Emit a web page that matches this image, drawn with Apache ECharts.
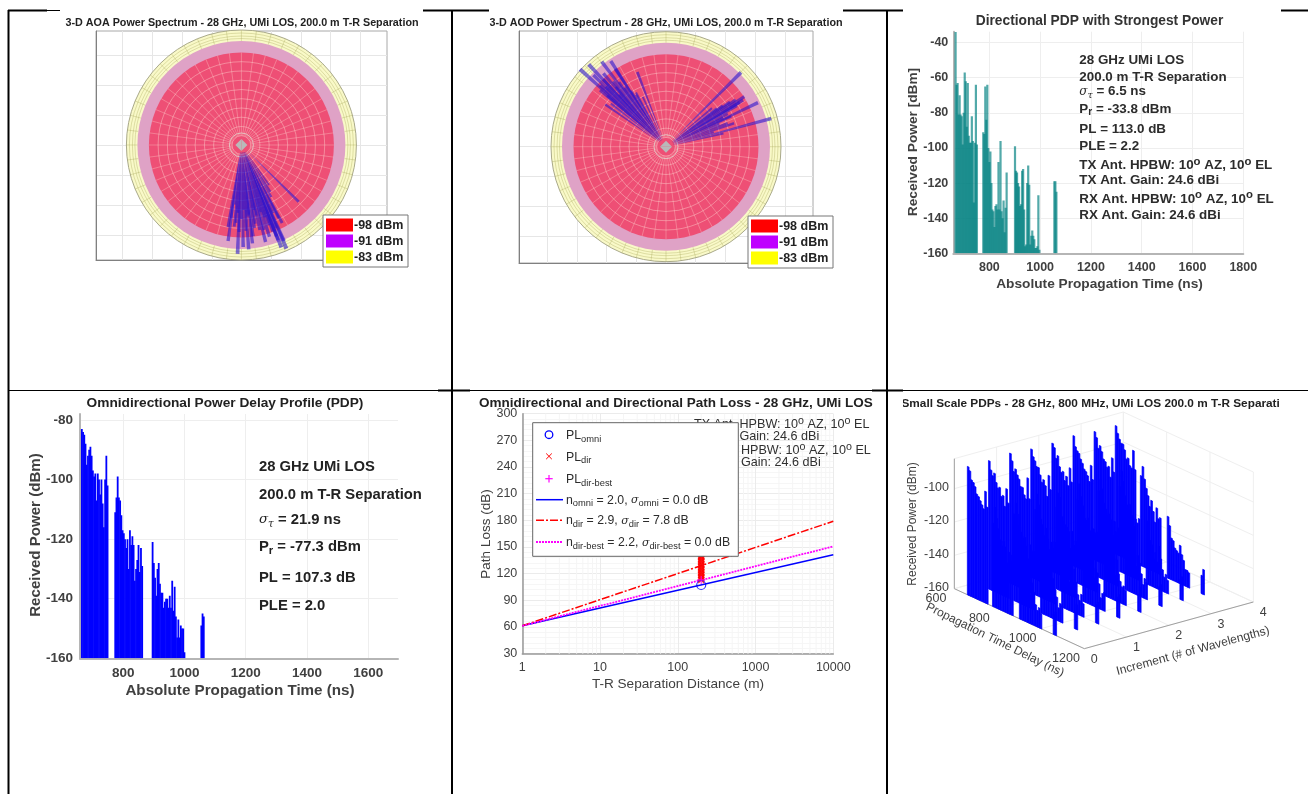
<!DOCTYPE html>
<html><head><meta charset="utf-8">
<style>html,body{margin:0;padding:0;background:#fff}#c{width:1308px;height:794px}</style>
<script src="https://cdn.jsdelivr.net/npm/echarts@6/dist/echarts.min.js"></script>
</head><body><div id="c"></div>
<script>
// ---------- data ----------
const bandRadii = [115, 104, 92.5];
const bandColors = ['#f9f9c8', '#dfa2c6', '#ee4f75'];
const redRings = [9.3, 18.5, 27.8, 37, 46.3, 55.5, 64.8, 74, 83.3];
const yellowRings = [106.5, 109, 112];
const spokeAngles = [0,7.5,15,22.5,30,37.5,45,52.5,60,67.5,75,82.5,90,97.5,105,112.5,120,127.5,135,142.5,150,157.5,165,172.5,180,187.5,195,202.5,210,217.5,225,232.5,240,247.5,255,262.5,270,277.5,285,292.5,300,307.5,315,322.5,330,337.5,345,352.5];
const aoaAngles = [134.7,145.3,152.4,156.5,158.7,158.9,166,167.8,172.7,173.6,176,179,182,181.5,187.9,189.3,150,155,161,164,170,175,178,184,186,160,168,163,148,153,157,162,165,169,171,174,177,180,183,185,188,159,156];
const aoaRadii  = [80.6,48.6,88,113,110,102,100,87,92,99,104.6,102,109,87,97,83,60,75,85,70,80,72,65,78,60,92,72,96,55,82,90,76,88,66,84,70,86,74,68,82,74,98,105];
const aodAngles = [312,316.8,322.9,327.2,314.6,339,319.5,310.6,304.8,326.9,45.3,57.4,58.9,64.4,75,71,77,52.9,308,315,320,325,330,335,50,55,62,67,73,60,311,313,317,318,321,324,328,331,54,56,59,63,65,69];
const aodRadii  = [115.7,113,106.6,102,102,80,96.5,87,74,93,105.6,93,90,102,109,72,59,63.5,70,85,78,72,60,55,60,78,70,58,50,82,78,90,92,70,84,80,66,62,70,84,86,64,72,66];
const bgTicksX = [-4,-3,-2,-1,0,1,2,3,4];
const bgTicksY = [-3,-2,-1,0,1,2,3];

const dirStarts = [667, 776, 901, 1056];
const dirPower = [
 [-34,-64,-63,-81,-70,-81,-82,-98,-80,-57,-62,-88,-63,-93,-97,-97,-82,-96,-131,-97,-64,-98],
 [-91,-92,-65,-84,-64,-100,-108,-102,-120,-135,-136,-145,-133,-132,-135,-108,-135,-96,-136,-140,-130,-148,-134,-114],
 [-99,-113,-114,-120,-122,-133,-132,-113,-112,-135,-156,-155,-120,-110,-121,-155,-150,-147,-150,-152,-157,-157,-156,-127,-158],
 [-119,-119,-125]
];
const omniStarts = [665, 774, 896, 1055];
const omniPower = [
 [-83,-84,-85,-88,-95,-92,-90,-89,-92,-97,-99,-98,-107,-98,-100,-105,-100,-108,-116,-100,-92,-102],
 [-111,-106,-99,-106,-107,-112,-117,-118,-120,-123,-120,-130,-117,-122,-119,-122,-134,-130,-127,-122,-131,-123,-129],
 [-121,-128,-133,-139,-130,-128,-135,-138,-138,-143,-141,-140,-140,-143,-139,-143,-134,-144,-136,-146,-153,-147,-153,-149,-150,-150,-158],
 [-149,-145,-146]
];
const plDistance = [1, 10000];
const plOmniFit = [61.4, 141.4];
const plDirFit = [61.4, 179];
const plBestFit = [61.4, 150.8];
const plPointDistance = 200;
const plOmniPoint = 107.3;
const plBestPoint = 113;
const plDirPoints = [113,115,116,118,119,121,122,124,125,127,128,130,131,133,134,136,137,139,140,142,144,146];

const incTicks = [0,1,2,3,4];
const delayTicks = [600,800,1000,1200];
const powerTicks = [-160,-140,-120,-100];
const ssIncrements = [0,0.5,1,1.5,2,2.5,3,3.5];
const ssStarts = [660, 776, 900, 1056];
const ssSegLens = [12, 12, 13, 2];
const ssRow0 = [-83,-85,-90,-91,-93,-97,-98,-100,-102,-104,-93,-102,-110,-100,-106,-112,-118,-121,-118,-121,-130,-123,-128,-124,-122,-132,-129,-137,-142,-141,-143,-135,-140,-147,-150,-148,-151,-148,-146];
const ssRow1 = [-83,-88,-91,-89,-94,-97,-96,-101,-100,-106,-95,-103,-108,-101,-107,-114,-117,-120,-119,-124,-131,-122,-126,-125,-123,-129,-134,-136,-141,-139,-144,-136,-142,-146,-152,-149,-150,-150,-145];
const ssRow2 = [-82,-86,-92,-90,-93,-95,-99,-99,-103,-105,-92,-104,-109,-99,-105,-113,-116,-122,-117,-123,-129,-124,-127,-123,-121,-131,-133,-135,-143,-140,-142,-134,-141,-148,-151,-147,-152,-149,-147];
const ssRow3 = [-83,-87,-89,-92,-92,-96,-100,-98,-101,-107,-94,-102,-111,-102,-104,-115,-118,-119,-120,-122,-132,-121,-129,-126,-122,-128,-135,-138,-140,-142,-143,-137,-139,-145,-153,-150,-149,-148,-146];
const ssRow4 = [-83,-85,-91,-89,-95,-98,-97,-102,-99,-104,-93,-101,-110,-100,-107,-112,-119,-120,-118,-125,-130,-123,-125,-124,-123,-130,-132,-136,-141,-138,-145,-135,-143,-147,-150,-149,-151,-150,-145];
const ssRow5 = [-82,-88,-90,-91,-94,-96,-99,-100,-102,-105,-95,-103,-108,-101,-106,-114,-117,-121,-119,-122,-131,-122,-128,-125,-121,-129,-134,-137,-142,-140,-143,-136,-140,-146,-152,-148,-150,-149,-147];
const ssRow6 = [-83,-86,-92,-90,-93,-97,-98,-101,-100,-106,-94,-102,-109,-99,-105,-113,-118,-120,-117,-123,-129,-124,-126,-123,-122,-131,-133,-135,-143,-139,-144,-134,-141,-147,-151,-149,-152,-148,-146];
const ssRow7 = [-83,-87,-90,-92,-92,-95,-100,-99,-103,-104,-93,-104,-106,-100,-107,-112,-116,-122,-118,-124,-130,-121,-127,-126,-123,-128,-135,-136,-140,-141,-142,-137,-142,-145,-150,-150,-151,-149,-145];
const ssRows = [ssRow0,ssRow1,ssRow2,ssRow3,ssRow4,ssRow5,ssRow6,ssRow7];

// ---------- helpers ----------
const FF = '"Liberation Sans", Arial, sans-serif';
const graphics = [];
function richFor(size, weight){
  const base = {fontFamily:FF, fontWeight:weight};
  return {
    s:{...base, fontSize:size*0.76, padding:[size*0.55,0,0,0]},
    u:{...base, fontSize:size*0.85, padding:[0,0,size*0.6,0]},
    g:{fontFamily:'"DejaVu Serif", serif', fontStyle:'italic', fontWeight:'normal', fontSize:size*0.9},
    gs:{fontFamily:'"DejaVu Serif", serif', fontStyle:'italic', fontWeight:'normal', fontSize:size*0.7, padding:[size*0.55,0,0,0]},
    n:{...base, fontSize:size}
  };
}
function T(x,y,text,o={}){
  const size=o.size||12, weight=o.bold?'bold':'normal';
  graphics.push({type:'text',x,y,rotation:o.rot||0,z:o.z||50,silent:true,style:{
    text, fill:o.color||'#404040', fontFamily:FF, fontSize:size, fontWeight:weight,
    align:o.align||'left', verticalAlign:'middle', rich:o.rich?richFor(size,weight):undefined}});
}
function rect(x,y,w,h,fill,z,stroke){
  graphics.push({type:'rect',z:z||1,silent:true,shape:{x,y,width:w,height:h},style:{fill,stroke:stroke||null,lineWidth:stroke?1:0}});
}
function seg(x1,y1,x2,y2,color,w,z,dash){
  graphics.push({type:'line',z:z||1,silent:true,shape:{x1,y1,x2,y2},style:{stroke:color,lineWidth:w,lineDash:dash||null}});
}
function flat(starts,rows,step){
  const out=[];
  rows.forEach((r,i)=>r.forEach((p,j)=>out.push([starts[i]+j*step,p])));
  return out;
}
function stems(gridIndex,data,floor,color,w,opacity){
  return {type:'custom',coordinateSystem:'cartesian2d',xAxisIndex:gridIndex,yAxisIndex:gridIndex,z:3,
    clip:true,silent:true,data,encode:{x:0,y:1},
    renderItem(p,api){
      const a=api.coord([api.value(0),api.value(1)]), b=api.coord([api.value(0),floor]);
      return {type:'rect',shape:{x:a[0]-w/2,y:a[1],width:w,height:b[1]-a[1]},style:{fill:color,opacity}};
    }};
}
const plain=v=>String(v);

const grids=[], xAxes=[], yAxes=[], series=[], polars=[], radiusAxes=[], angleAxes=[];

// ---------- panels 1, 2: spectra ----------
function spectrum(box,center,angles,radii){
  const g=grids.length, pi=polars.length;
  grids.push({left:box[0],top:box[1],width:box[2]-box[0],height:box[3]-box[1],show:true,borderColor:'#a8a8a8',borderWidth:1,backgroundColor:'transparent'});
  const ux=(box[2]-box[0])/2/29.7, uy=(center[1]-box[1])/30, ly=(box[3]-center[1])/30;
  xAxes.push({gridIndex:g,type:'value',min:-ux,max:ux,
    axisLine:{show:true,onZero:false,lineStyle:{color:'#808080',width:1}},axisLabel:{show:false},
    axisTick:{show:false,customValues:bgTicksX},splitLine:{show:true,lineStyle:{color:'#e6e6e6'}}});
  yAxes.push({gridIndex:g,type:'value',min:-ly,max:uy,
    axisLine:{show:true,onZero:false,lineStyle:{color:'#808080',width:1}},axisLabel:{show:false},
    axisTick:{show:false,customValues:bgTicksY},splitLine:{show:true,lineStyle:{color:'#e6e6e6'}}});
  polars.push({center,radius:115});
  radiusAxes.push({polarIndex:pi,type:'value',min:0,max:115,axisLine:{show:false},axisTick:{show:false},axisLabel:{show:false},splitLine:{show:false}});
  angleAxes.push({polarIndex:pi,type:'value',min:0,max:360,startAngle:90,axisLine:{show:false},axisTick:{show:false},axisLabel:{show:false},splitLine:{show:false}});
  const polarCustom=(z,data,renderItem)=>({type:'custom',coordinateSystem:'polar',polarIndex:pi,z,silent:true,clip:false,data,encode:{radius:0,angle:1},renderItem});
  const dist=(a,b)=>Math.hypot(a[0]-b[0],a[1]-b[1]);
  const circle=(api,r)=>{const c=api.coord([0,0]);return {cx:c[0],cy:c[1],r:dist(c,api.coord([r,0]))};};
  series.push(polarCustom(2,[[bandRadii[0],0]],(p,api)=>({type:'circle',shape:circle(api,api.value(0)),style:{fill:bandColors[0],stroke:'#a9a98a',lineWidth:1}})));
  series.push(polarCustom(3,yellowRings.map(r=>[r,0]),(p,api)=>({type:'circle',shape:circle(api,api.value(0)),style:{fill:null,stroke:'rgba(165,165,90,0.5)',lineWidth:0.7}})));
  series.push(polarCustom(3,spokeAngles.map(a=>[bandRadii[0],a]),(p,api)=>{
    const a=api.coord([bandRadii[1],api.value(1)]),b=api.coord([api.value(0),api.value(1)]);
    return {type:'line',shape:{x1:a[0],y1:a[1],x2:b[0],y2:b[1]},style:{stroke:'rgba(165,165,90,0.5)',lineWidth:0.7}};
  }));
  series.push(polarCustom(4,[[bandRadii[1],0]],(p,api)=>({type:'circle',shape:circle(api,api.value(0)),style:{fill:bandColors[1]}})));
  series.push(polarCustom(5,[[bandRadii[2],0]],(p,api)=>({type:'circle',shape:circle(api,api.value(0)),style:{fill:bandColors[2]}})));
  series.push(polarCustom(6,redRings.map(r=>[r,0]),(p,api)=>({type:'circle',shape:circle(api,api.value(0)),style:{fill:null,stroke:'rgba(255,225,215,0.5)',lineWidth:0.8}})));
  series.push(polarCustom(6,spokeAngles.map(a=>[bandRadii[2],a]),(p,api)=>{
    const a=api.coord([9.3,api.value(1)]),b=api.coord([api.value(0),api.value(1)]);
    return {type:'line',shape:{x1:a[0],y1:a[1],x2:b[0],y2:b[1]},style:{stroke:'rgba(255,225,215,0.45)',lineWidth:0.7}};
  }));
  series.push(polarCustom(7,[[6,0],[6,90],[6,180],[6,270]],(p,api)=>{
    const c=api.coord([0,0]);
    const q=api.coord([api.value(0),api.value(1)]), r=api.coord([api.value(0),api.value(1)+90]);
    return {type:'polygon',shape:{points:[c,q,r]},style:{fill:'#b9b9b9'}};
  }));
  series.push(polarCustom(7,[[12,0]],(p,api)=>({type:'circle',shape:circle(api,api.value(0)),style:{fill:null,stroke:'rgba(225,215,205,0.8)',lineWidth:1}})));
  series.push(polarCustom(8,angles.map((a,i)=>[radii[i],a]),(p,api)=>{
    const r=api.value(0),a=api.value(1);
    const s=api.coord([7,a]),e1=api.coord([r,a-1]),e2=api.coord([r,a+1]);
    return {type:'polygon',shape:{points:[s,e1,e2]},style:{fill:'rgba(45,20,205,0.6)'}};
  }));
}
spectrum([96,31,387,260],[241.4,145],aoaAngles,aoaRadii);
spectrum([519,31,813,263],[666,146.7],aodAngles,aodRadii);

// ---------- panel 3 ----------
{
  const g=grids.length;
  grids.push({left:953.3,top:31.7,width:290,height:221.6,show:false});
  xAxes.push({gridIndex:g,type:'value',min:658,max:1800,
    axisLine:{show:true,onZero:false,lineStyle:{color:'#b5b5b5',width:2}},axisTick:{show:false,customValues:[800,1000,1200,1400,1600,1800]},
    axisLabel:{customValues:[800,1000,1200,1400,1600,1800],formatter:plain,color:'#404040',fontFamily:FF,fontWeight:'bold',fontSize:12.5,margin:8,showMaxLabel:true},
    splitLine:{show:true,lineStyle:{color:'#eeeeee'}}});
  yAxes.push({gridIndex:g,type:'value',min:-160,max:-33.8,
    axisLine:{show:true,onZero:false,lineStyle:{color:'#b5b5b5',width:2}},axisTick:{show:false,customValues:[-160,-140,-120,-100,-80,-60,-40]},
    axisLabel:{customValues:[-160,-140,-120,-100,-80,-60,-40],formatter:plain,color:'#404040',fontFamily:FF,fontWeight:'bold',fontSize:12.5,margin:5},
    splitLine:{show:true,lineStyle:{color:'#eeeeee'}}});
  series.push(stems(g,flat(dirStarts,dirPower,4),-160,'#008080',2.2,0.68));
}
// ---------- panel 4 ----------
{
  const g=grids.length;
  grids.push({left:80,top:414,width:318,height:244.3,show:false});
  xAxes.push({gridIndex:g,type:'value',min:659,max:1697,
    axisLine:{show:true,onZero:false,lineStyle:{color:'#b5b5b5',width:2}},axisTick:{show:false,customValues:[800,1000,1200,1400,1600]},
    axisLabel:{customValues:[800,1000,1200,1400,1600],formatter:plain,color:'#404040',fontFamily:FF,fontWeight:'bold',fontSize:13.5,margin:8},
    splitLine:{show:true,lineStyle:{color:'#eeeeee'}}});
  yAxes.push({gridIndex:g,type:'value',min:-160,max:-78,
    axisLine:{show:true,onZero:false,lineStyle:{color:'#b5b5b5',width:2}},axisTick:{show:false,customValues:[-160,-140,-120,-100,-80]},
    axisLabel:{customValues:[-160,-140,-120,-100,-80],formatter:plain,color:'#404040',fontFamily:FF,fontWeight:'bold',fontSize:13.5,margin:7},
    splitLine:{show:true,lineStyle:{color:'#eeeeee'}}});
  series.push(stems(g,flat(omniStarts,omniPower,4),-160,'#0000ff',1.8,1));
}
// ---------- panel 5 ----------
{
  const g=grids.length;
  grids.push({left:522.3,top:413.7,width:311,height:240,show:false});
  const decades=[1,10,100,1000], minorX=[];
  decades.forEach(d=>[2,3,4,5,6,7,8,9].forEach(m=>minorX.push(d*m)));
  xAxes.push({gridIndex:g,type:'log',logBase:10,min:1,max:10000,
    axisLine:{show:true,onZero:false,lineStyle:{color:'#999',width:1.5}},axisTick:{show:false},
    axisLabel:{color:'#404040',fontFamily:FF,fontSize:12.5,margin:7,formatter:plain},
    splitLine:{show:true,lineStyle:{color:'#ebebeb'}}});
  yAxes.push({gridIndex:g,type:'value',min:30,max:300,interval:30,
    axisLine:{show:true,onZero:false,lineStyle:{color:'#999',width:1.5}},axisTick:{show:false},
    axisLabel:{color:'#404040',fontFamily:FF,fontSize:12.5,margin:5},
    minorTick:{show:false,splitNumber:5},minorSplitLine:{show:true,lineStyle:{color:'#f6f6f6'}},
    splitLine:{show:true,lineStyle:{color:'#ebebeb'}}});
  series.push({type:'custom',coordinateSystem:'cartesian2d',xAxisIndex:g,yAxisIndex:g,z:1,silent:true,data:minorX.map(v=>[v,30]),encode:{x:0,y:1},
    renderItem(p,api){const a=api.coord([api.value(0),30]),b=api.coord([api.value(0),300]);
      return {type:'line',shape:{x1:a[0],y1:a[1],x2:b[0],y2:b[1]},style:{stroke:'#f5f5f5',lineWidth:1}};}});
  const line=(ys,color,dash,w)=>({type:'line',xAxisIndex:g,yAxisIndex:g,z:4,symbol:'none',silent:true,data:plDistance.map((d,i)=>[d,ys[i]]),lineStyle:{color,type:dash,width:w}});
  series.push(line(plOmniFit,'#0000ff','solid',1.5));
  series.push(line(plDirFit,'#ff0000',[8,2,2,2],1.5));
  series.push(line(plBestFit,'#ff00ff',[2,1],1.8));
  series.push({type:'scatter',xAxisIndex:g,yAxisIndex:g,z:5,silent:true,symbol:'path://M0 0L10 10M10 0L0 10',symbolSize:6,
    data:plDirPoints.map(v=>[plPointDistance,v]),itemStyle:{color:'rgba(0,0,0,0)',borderColor:'#ff0000',borderWidth:1.5}});
  series.push({type:'scatter',xAxisIndex:g,yAxisIndex:g,z:6,silent:true,symbol:'circle',symbolSize:9,
    data:[[plPointDistance,plOmniPoint]],itemStyle:{color:'rgba(0,0,0,0)',borderColor:'#0000ff',borderWidth:1.2}});
  series.push({type:'scatter',xAxisIndex:g,yAxisIndex:g,z:6,silent:true,symbol:'path://M5 0L5 10M0 5L10 5',symbolSize:8,
    data:[[plPointDistance,plBestPoint]],itemStyle:{color:'rgba(0,0,0,0)',borderColor:'#ff00ff',borderWidth:1.2}});
}
// ---------- panel 6: oblique drawing through a hidden pair of axes ----------
{
  const g=grids.length;
  grids.push({left:890,top:392,width:410,height:300,show:false});
  xAxes.push({gridIndex:g,type:'value',min:0,max:1230,show:false});
  yAxes.push({gridIndex:g,type:'value',min:0,max:900,inverse:true,show:false});
  const proj=(inc,t,p)=>[193+126.75*inc+0.65*(t-600),590-35*inc+0.3*(t-600)-5*(p+160)];
  const cust=(z,data,renderItem)=>({type:'custom',coordinateSystem:'cartesian2d',xAxisIndex:g,yAxisIndex:g,z,silent:true,clip:false,data,encode:{x:0,y:1},renderItem});
  const segs=[], axisSegs=[];
  const top=-82;
  delayTicks.forEach(t=>{segs.push([0,t,-160,4,t,-160]);segs.push([4,t,-160,4,t,top]);});
  incTicks.forEach(i=>{segs.push([i,600,-160,i,1200,-160]);segs.push([i,600,-160,i,600,top]);});
  powerTicks.forEach(p=>{segs.push([0,600,p,4,600,p]);segs.push([4,600,p,4,1200,p]);});
  segs.push([0,600,top,4,600,top]);segs.push([4,600,top,4,1200,top]);
  axisSegs.push([0,600,-160,0,1200,-160]);axisSegs.push([0,1200,-160,4,1200,-160]);axisSegs.push([0,600,-160,0,600,top]);
  const segDraw=(color,w)=>(p,api)=>{
    const a=proj(api.value(0),api.value(1),api.value(2)),b=proj(api.value(3),api.value(4),api.value(5));
    const A=api.coord(a),B=api.coord(b);
    return {type:'line',shape:{x1:A[0],y1:A[1],x2:B[0],y2:B[1]},style:{stroke:color,lineWidth:w}};
  };
  series.push(cust(1,segs,segDraw('#efefef',1)));
  series.push(cust(2,axisSegs,segDraw('#a0a0a0',1)));
  const pts=[];
  for(let r=ssRows.length-1;r>=0;r--){
    let k=0;
    ssSegLens.forEach((n,s)=>{for(let j=0;j<n;j++){pts.push([ssIncrements[r],ssStarts[s]+j*8,ssRows[r][k++]]);}});
  }
  series.push(cust(3,pts,(p,api)=>{
    const inc=api.value(0),t=api.value(1),v=api.value(2);
    const T1=api.coord(proj(inc,t,v)),B1=api.coord(proj(inc,t,-160)),B2=api.coord(proj(inc,t+8,-160)),T2=[B2[0],T1[1]+(B2[1]-B1[1])];
    return {type:'polygon',shape:{points:[T1,T2,B2,B1]},style:{fill:'#0000ff',stroke:'#0000ff',lineWidth:0.7}};
  }));
  const lab=(data,fn)=>cust(4,data,(p,api)=>{const o=fn(api.value(0));const c=api.coord(o.at);
    return {type:'text',x:c[0],y:c[1],style:{text:o.text,fill:'#404040',fontFamily:FF,fontSize:12.5,align:o.align,verticalAlign:'middle'}};});
  series.push(lab(incTicks.map(v=>[v,0]),v=>{const q=proj(v,1200,-160);return {at:[q[0]+30,q[1]+32],text:String(v),align:'center'};}));
  series.push(lab(delayTicks.map(v=>[v,0]),v=>{const q=proj(0,v,-160);return {at:[q[0]-55,q[1]+29],text:String(v),align:'center'};}));
  series.push(lab(powerTicks.map(v=>[v,0]),v=>{const q=proj(0,600,v);return {at:[q[0]-16,q[1]-3],text:String(v),align:'right'};}));
}

// ---------- table rules ----------
seg(8.5,10,8.5,794,'#000',2,70);
seg(452,10,452,794,'#000',2,70);
seg(887,10,887,794,'#000',2,70);
seg(8,10.5,47,10.5,'#000',2,70);
seg(47,10.5,60,10.5,'#000',1,70);
seg(423,10.5,489,10.5,'#000',2,70);
seg(843,10.5,903,10.5,'#000',2,70);
seg(1281,10.5,1308,10.5,'#000',2,70);
seg(8,390.5,1308,390.5,'#000',1,70);
seg(438,390.5,470,390.5,'#000',2,70);
seg(872,390.5,903,390.5,'#000',2,70);

// ---------- titles and labels ----------
T(242,23,'3-D AOA Power Spectrum - 28 GHz, UMi LOS, 200.0 m T-R Separation',{size:10.75,bold:true,color:'#222',align:'center'});
T(666,23,'3-D AOD Power Spectrum - 28 GHz, UMi LOS, 200.0 m T-R Separation',{size:10.75,bold:true,color:'#222',align:'center'});
function legendBox(x,y){
  rect(x,y,85,52,'#fff',60,'#777');
  const rows=[['#ff0000','-98 dBm'],['#bf00ff','-91 dBm'],['#ffff00','-83 dBm']];
  rows.forEach((r,i)=>{
    rect(x+3,y+3.5+i*16,27,13,r[0],61);
    T(x+31,y+10.5+i*16,r[1],{size:12.5,bold:true,color:'#222',z:61});
  });
}
legendBox(323,215);
legendBox(748,216);

T(1099.5,21,'Directional PDP with Strongest Power',{size:13.75,bold:true,color:'#333',align:'center'});
T(1099.5,284,'Absolute Propagation Time (ns)',{size:13.7,bold:true,color:'#404040',align:'center'});
T(913,142,'Received Power [dBm]',{size:13.7,bold:true,color:'#404040',align:'center',rot:Math.PI/2});
const d3=[[60.7,'28 GHz UMi LOS'],[77.7,'200.0 m T-R Separation'],[91.7,'{g|σ}{gs|τ} = 6.5 ns'],[109,'P{s|r} = -33.8 dBm'],[129,'PL = 113.0 dB'],[146,'PLE = 2.2'],
 [165.7,'TX Ant. HPBW: 10{u|o} AZ, 10{u|o} EL'],[180,'TX Ant. Gain: 24.6 dBi'],[199,'RX Ant. HPBW: 10{u|o} AZ, 10{u|o} EL'],[215,'RX Ant. Gain: 24.6 dBi']];
d3.forEach(r=>T(1079.3,r[0],r[1],{size:13.4,bold:true,color:'#2c2c2c',rich:true}));

T(225,403,'Omnidirectional Power Delay Profile (PDP)',{size:13.7,bold:true,color:'#222',align:'center'});
T(240,691,'Absolute Propagation Time (ns)',{size:15.2,bold:true,color:'#404040',align:'center'});
T(36,535,'Received Power (dBm)',{size:15.1,bold:true,color:'#404040',align:'center',rot:Math.PI/2});
const d4=[[467,'28 GHz UMi LOS'],[495,'200.0 m T-R Separation'],[520,'{g|σ}{gs|τ} = 21.9 ns'],[547,'P{s|r} = -77.3 dBm'],[578,'PL = 107.3 dB'],[606,'PLE = 2.0']];
d4.forEach(r=>T(259,r[0],r[1],{size:14.8,bold:true,color:'#222',rich:true}));

T(479,403.7,'Omnidirectional and Directional Path Loss - 28 GHz, UMi LOS',{size:13.5,bold:true,color:'#222'});
rect(873,395,13,16,'#fff',55);
T(678,684,'T-R Separation Distance (m)',{size:13.6,color:'#404040',align:'center'});
T(486,534,'Path Loss (dB)',{size:13.5,color:'#404040',align:'center',rot:Math.PI/2});
[[425,'TX Ant. HPBW: 10{u|o} AZ, 10{u|o} EL'],[437,'TX Ant. Gain: 24.6 dBi'],[451,'RX Ant. HPBW: 10{u|o} AZ, 10{u|o} EL'],[463,'RX Ant. Gain: 24.6 dBi']].forEach(r=>T(694,r[0],r[1],{size:12.6,color:'#303030',rich:true,z:56}));
rect(532.7,422.7,205.6,133.6,'#fff',60,'#666');
graphics.push({type:'circle',z:61,silent:true,shape:{cx:549,cy:434.7,r:3.8},style:{fill:null,stroke:'#0000ff',lineWidth:1.3}});
seg(546.2,453.5,551.8,459.1,'#ff0000',1,61);seg(551.8,453.5,546.2,459.1,'#ff0000',1,61);
seg(549,475,549,482.4,'#ff00ff',1.2,61);seg(545.3,478.7,552.7,478.7,'#ff00ff',1.2,61);
seg(536,499.7,563,499.7,'#0000ff',1.5,61);
seg(536,520.3,563,520.3,'#ff0000',1.5,61,[8,2,2,2]);
seg(536,542,563,542,'#ff00ff',1.8,61,[2,1]);
[[436,'PL{s|omni}'],[457.5,'PL{s|dir}'],[480,'PL{s|dir-best}'],
 [500.5,'n{s|omni} = 2.0, {g|σ}{s|omni} = 0.0 dB'],[521,'n{s|dir} = 2.9, {g|σ}{s|dir} = 7.8 dB'],[543,'n{s|dir-best} = 2.2, {g|σ}{s|dir-best} = 0.0 dB']]
 .forEach(r=>T(566,r[0],r[1],{size:12.3,color:'#2c2c2c',rich:true,z:61}));

T(901.5,403.7,'Small Scale PDPs - 28 GHz, 800 MHz, UMi LOS 200.0 m T-R Separation',{size:11.8,bold:true,color:'#222',z:50});
rect(890,396,13,16,'#fff',55);
rect(1280,396,28,16,'#fff',55);
T(913,524,'Received Power (dBm)',{size:12,color:'#404040',align:'center',rot:Math.PI/2});
T(995,640,'Propagation Time Delay (ns)',{size:12,color:'#404040',align:'center',rot:-0.46});
T(1193,651,'Increment (# of Wavelengths)',{size:12.1,color:'#404040',align:'center',rot:0.265});

const chart=echarts.init(document.getElementById('c'),null,{renderer:'canvas'});
chart.setOption({
  animation:false,
  backgroundColor:'#ffffff',
  grid:grids,xAxis:xAxes,yAxis:yAxes,
  polar:polars,radiusAxis:radiusAxes,angleAxis:angleAxes,
  series,
  graphic:{elements:graphics}
});
</script></body></html>
